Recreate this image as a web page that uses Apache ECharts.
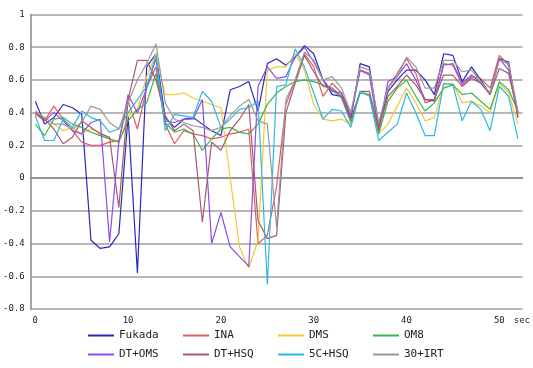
<!DOCTYPE html>
<html>
<head>
<meta charset="utf-8">
<script src="https://cdn.jsdelivr.net/npm/echarts@6/dist/echarts.min.js"></script>
<style>
  html, body { margin: 0; padding: 0; background: #fff; }
  #main { width: 533px; height: 368px; }
</style>
</head>
<body>
<div id="main"></div>
<script>
var seconds = [0,1,2,3,4,5,6,7,8,9,10,11,12,13,14,15,16,17,18,19,20,21,22,23,24,25,26,
  27,28,29,30,31,32,33,34,35,36,37,38,39,40,41,42,43,44,45,46,47,48,49,50,51,52];

var fukada = [0.47,0.33,0.37,0.45,0.43,0.39,-0.38,-0.43,-0.42,-0.34,0.38,-0.58,0.68,0.76,0.37,0.31,0.36,0.37,0.33,0.29,0.26,0.54,0.56,0.59,0.41,0.70,0.73,
  0.69,0.74,0.81,0.76,0.60,0.51,0.50,0.36,0.70,0.68,0.31,0.53,0.60,0.66,0.66,0.60,0.51,0.76,0.75,0.59,0.68,0.60,0.51,0.73,0.71,0.37];
var ina = [0.39,0.35,0.44,0.36,0.29,0.22,0.20,0.20,0.22,0.23,0.47,0.30,0.55,0.68,0.33,0.21,0.29,0.27,0.26,0.24,0.25,0.27,0.28,0.30,-0.40,-0.35,-0.05,
  0.45,0.60,0.76,0.68,0.50,0.58,0.52,0.39,0.66,0.64,0.32,0.55,0.64,0.73,0.64,0.46,0.48,0.70,0.69,0.57,0.62,0.61,0.55,0.75,0.69,0.38];
var dms = [0.38,0.37,0.33,0.29,0.31,0.27,0.30,0.28,0.24,0.22,0.38,0.42,0.62,0.76,0.51,0.51,0.52,0.49,0.47,0.45,0.43,0.00,-0.42,-0.55,-0.38,0.66,0.68,
  0.68,0.76,0.66,0.45,0.36,0.35,0.36,0.33,0.53,0.51,0.27,0.33,0.44,0.55,0.46,0.35,0.37,0.57,0.58,0.46,0.47,0.44,0.40,0.58,0.52,0.33];
var om8 = [0.33,0.26,0.36,0.37,0.33,0.31,0.28,0.26,0.24,0.22,0.35,0.42,0.46,0.64,0.34,0.28,0.30,0.27,0.17,0.24,0.30,0.31,0.28,0.27,0.33,0.45,0.52,
  0.56,0.59,0.60,0.59,0.57,0.54,0.49,0.34,0.52,0.51,0.27,0.47,0.55,0.60,0.50,0.41,0.46,0.55,0.57,0.51,0.52,0.47,0.42,0.59,0.54,0.41];
var dtOms = [0.40,0.35,0.40,0.35,0.29,0.27,0.34,0.36,-0.39,0.22,0.51,0.40,0.55,0.73,0.35,0.34,0.36,0.36,0.48,-0.40,-0.21,-0.42,-0.48,-0.54,0.56,0.68,0.61,
  0.62,0.74,0.80,0.71,0.60,0.53,0.52,0.38,0.66,0.63,0.29,0.59,0.62,0.70,0.60,0.48,0.47,0.69,0.70,0.58,0.63,0.58,0.52,0.73,0.66,0.40];
var dtHsq = [0.40,0.36,0.30,0.21,0.25,0.35,0.31,0.27,0.25,-0.18,0.48,0.72,0.72,0.60,0.38,0.29,0.33,0.29,-0.27,0.22,0.17,0.29,0.36,0.45,-0.26,-0.37,-0.35,
  0.40,0.58,0.75,0.65,0.56,0.55,0.50,0.36,0.53,0.53,0.30,0.50,0.56,0.63,0.57,0.48,0.48,0.63,0.63,0.56,0.61,0.58,0.51,0.67,0.64,0.39];
var c5Hsq = [0.38,0.23,0.23,0.36,0.31,0.41,0.37,0.35,0.28,0.30,0.40,0.48,0.56,0.75,0.29,0.39,0.38,0.37,0.53,0.47,0.31,0.36,0.42,0.43,0.47,-0.65,0.56,
  0.57,0.79,0.68,0.52,0.36,0.42,0.41,0.31,0.53,0.50,0.23,0.28,0.33,0.52,0.40,0.26,0.26,0.58,0.57,0.35,0.47,0.42,0.29,0.56,0.50,0.24];
var irt30 = [0.41,0.37,0.33,0.33,0.30,0.34,0.44,0.42,0.34,0.30,0.46,0.60,0.70,0.82,0.46,0.36,0.34,0.32,0.31,0.29,0.31,0.38,0.44,0.48,0.35,0.33,-0.30,
  0.48,0.60,0.77,0.72,0.60,0.62,0.55,0.40,0.68,0.66,0.34,0.55,0.62,0.74,0.68,0.55,0.55,0.72,0.72,0.65,0.66,0.59,0.52,0.72,0.70,0.41];

var names = ['Fukada', 'INA', 'DMS', 'OM8', 'DT+OMS', 'DT+HSQ', '5C+HSQ', '30+IRT'];
var values = [fukada, ina, dms, om8, dtOms, dtHsq, c5Hsq, irt30];
var colors = ['#2828c0', '#e05a64', '#f5c832', '#3cb44a', '#8a4cec', '#a85a6a', '#2cb8e4', '#999999'];

var font = 'DejaVu Sans Mono';
var myChart = echarts.init(document.getElementById('main'));

var series = names.map(function (n, k) {
  return {
    name: n,
    type: 'line',
    data: values[k],
    symbol: 'none',
    animation: false,
    lineStyle: { width: 1.2, color: colors[k] },
    itemStyle: { color: colors[k] }
  };
});

// one legend per entry, 4 columns x 2 rows
var legends = names.map(function (n, k) {
  return {
    data: [n],
    left: 83 + 95 * (k % 4),
    top: k < 4 ? 325 : 344,
    padding: 5,
    icon: 'rect',
    itemWidth: 26,
    itemHeight: 2,
    textStyle: { fontFamily: font, fontSize: 11, color: '#222' }
  };
});

var option = {
  backgroundColor: '#fff',
  color: colors,
  grid: { left: 29, right: 10, top: 14.5, bottom: 59 },
  legend: legends,
  xAxis: {
    type: 'category',
    data: seconds,
    boundaryGap: true,
    axisLine: { lineStyle: { color: '#888', width: 1.5 } },
    axisTick: {
      inside: true,
      length: 3,
      interval: function (idx) { return idx % 10 === 0; },
      lineStyle: { color: '#444' }
    },
    axisLabel: {
      interval: 0,
      margin: 7,
      fontFamily: font,
      fontSize: 9,
      color: '#222',
      formatter: function (v) {
        v = Number(v);
        if (v === 52) return '{s|sec}';
        return v % 10 === 0 ? String(v) : '';
      },
      rich: { s: { fontFamily: font, fontSize: 9, color: '#222', padding: [0, 0, 0, 8] } }
    },
    splitLine: { show: false }
  },
  yAxis: {
    type: 'value',
    min: -0.8,
    max: 1,
    interval: 0.2,
    axisLine: { show: true, lineStyle: { color: '#888', width: 1.5 } },
    axisTick: { show: false },
    axisLabel: {
      margin: 6,
      fontFamily: font,
      fontSize: 9,
      color: '#222',
      formatter: function (v) {
        var r = Math.round(v * 10) / 10;
        return r === 0 ? '0' : String(r);
      }
    },
    splitLine: { lineStyle: { color: '#a0a0a0', width: 1.5 } }
  },
  series: series
};

myChart.setOption(option);
</script>
</body>
</html>
